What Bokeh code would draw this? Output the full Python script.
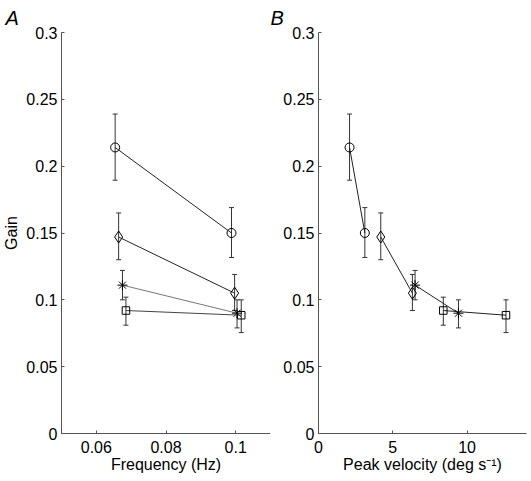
from bokeh.plotting import figure
from bokeh.layouts import row
from bokeh.models import ColumnDataSource, Whisker, FixedTicker, Range1d, TeeHead, Title
from bokeh.embed import file_html
from bokeh.resources import INLINE

# ---- data ----
conditions = ["circle", "diamond", "asterisk", "square"]
freq = {"circle": [0.0654, 0.0988], "diamond": [0.0664, 0.0997],
        "asterisk": [0.0675, 0.1004], "square": [0.0685, 0.1016]}
gain = {"circle": [0.214, 0.150], "diamond": [0.147, 0.105],
        "asterisk": [0.111, 0.090], "square": [0.092, 0.0885]}
gain_upper = {"circle": [0.239, 0.169], "diamond": [0.165, 0.119],
              "asterisk": [0.122, 0.100], "square": [0.102, 0.100]}
gain_lower = {"circle": [0.1895, 0.1317], "diamond": [0.130, 0.092],
              "asterisk": [0.100, 0.079], "square": [0.081, 0.0755]}
velocity = {"circle": [2.09, 3.12], "diamond": [4.19, 6.32],
            "asterisk": [6.5, 9.42], "square": [8.4, 12.62]}

y_ticks = [0, 0.05, 0.1, 0.15, 0.2, 0.25, 0.3]
y_tick_labels = ["0", "0.05", "0.1", "0.15", "0.2", "0.25", "0.3"]
xa_ticks = [0.06, 0.08, 0.1]
xa_tick_labels = ["0.06", "0.08", "0.1"]
xb_ticks = [0, 5, 10]
xb_tick_labels = ["0", "5", "10"]

line_colors_a = {"circle": "#222222", "diamond": "#222222", "asterisk": "#777777", "square": "#444444"}
marker_sizes = {"circle": 9, "diamond": 12, "asterisk": 10, "square": 7.5}

FONT = "Liberation Sans"
AXIS_COLOR = "#555555"
H = 475


def style(p, xticks, xlabels):
    p.xgrid.visible = False
    p.ygrid.visible = False
    p.outline_line_color = None
    for ax in (p.xaxis[0], p.yaxis[0]):
        ax.axis_line_color = AXIS_COLOR
        ax.major_tick_line_color = AXIS_COLOR
        ax.major_tick_in = 3
        ax.major_tick_out = 0
        ax.minor_tick_line_color = None
        ax.major_label_text_font = FONT
        ax.major_label_text_font_size = "16px"
        ax.major_label_text_color = "black"
        ax.axis_label_text_font = FONT
        ax.axis_label_text_font_size = "16px"
        ax.axis_label_text_font_style = "normal"
        ax.axis_label_text_color = "black"
    p.yaxis[0].ticker = FixedTicker(ticks=y_ticks)
    p.yaxis[0].major_label_overrides = {t: l for t, l in zip(y_ticks, y_tick_labels)}
    p.yaxis[0].major_label_standoff = 4
    p.xaxis[0].ticker = FixedTicker(ticks=xticks)
    p.xaxis[0].major_label_overrides = {t: l for t, l in zip(xticks, xlabels)}
    p.xaxis[0].major_label_standoff = 7
    p.xaxis[0].axis_label_standoff = 0


def draw(p, xdata, line_colors):
    for c in conditions:
        src = ColumnDataSource(dict(x=xdata[c], y=gain[c], up=gain_upper[c], lo=gain_lower[c]))
        w = Whisker(source=src, base="x", upper="up", lower="lo",
                    line_color="#333333", line_width=1,
                    upper_head=TeeHead(size=5, line_color="#333333", line_width=1),
                    lower_head=TeeHead(size=5, line_color="#333333", line_width=1))
        p.add_layout(w)
        p.line("x", "y", source=src, line_color=line_colors[c], line_width=1)
        p.scatter("x", "y", source=src, marker=c, size=marker_sizes[c],
                  line_color="black", fill_color=None, line_width=1)


def panel_title(text, offset):
    return Title(text=text, align="left", offset=offset, standoff=7,
                 text_font=FONT, text_font_size="20px", text_font_style="italic",
                 text_color="black")


# Panel A
pa = figure(width=270, height=H, output_backend="svg", toolbar_location=None,
            x_range=Range1d(0.05, 0.11), y_range=Range1d(0, 0.3),
            min_border_left=61, min_border_right=0, min_border_top=32, min_border_bottom=42)
style(pa, xa_ticks, xa_tick_labels)
pa.xaxis[0].axis_label = "Frequency (Hz)"
pa.yaxis[0].axis_label = "Gain"
pa.yaxis[0].axis_label_standoff = 3
draw(pa, freq, line_colors_a)
pa.title = panel_title("A", -56)

# Panel B
pb = figure(width=259, height=H, output_backend="svg", toolbar_location=None,
            x_range=Range1d(0, 14), y_range=Range1d(0, 0.3),
            min_border_left=48, min_border_right=3, min_border_top=32, min_border_bottom=42)
style(pb, xb_ticks, xb_tick_labels)
pb.xaxis[0].axis_label = "Peak velocity (deg s\u207b\u00b9)"
draw(pb, velocity, {c: "#222222" for c in conditions})
pb.title = panel_title("B", -48)

layout = row(pa, pb, spacing=0)
open("out.html", "w").write(file_html(layout, INLINE))
